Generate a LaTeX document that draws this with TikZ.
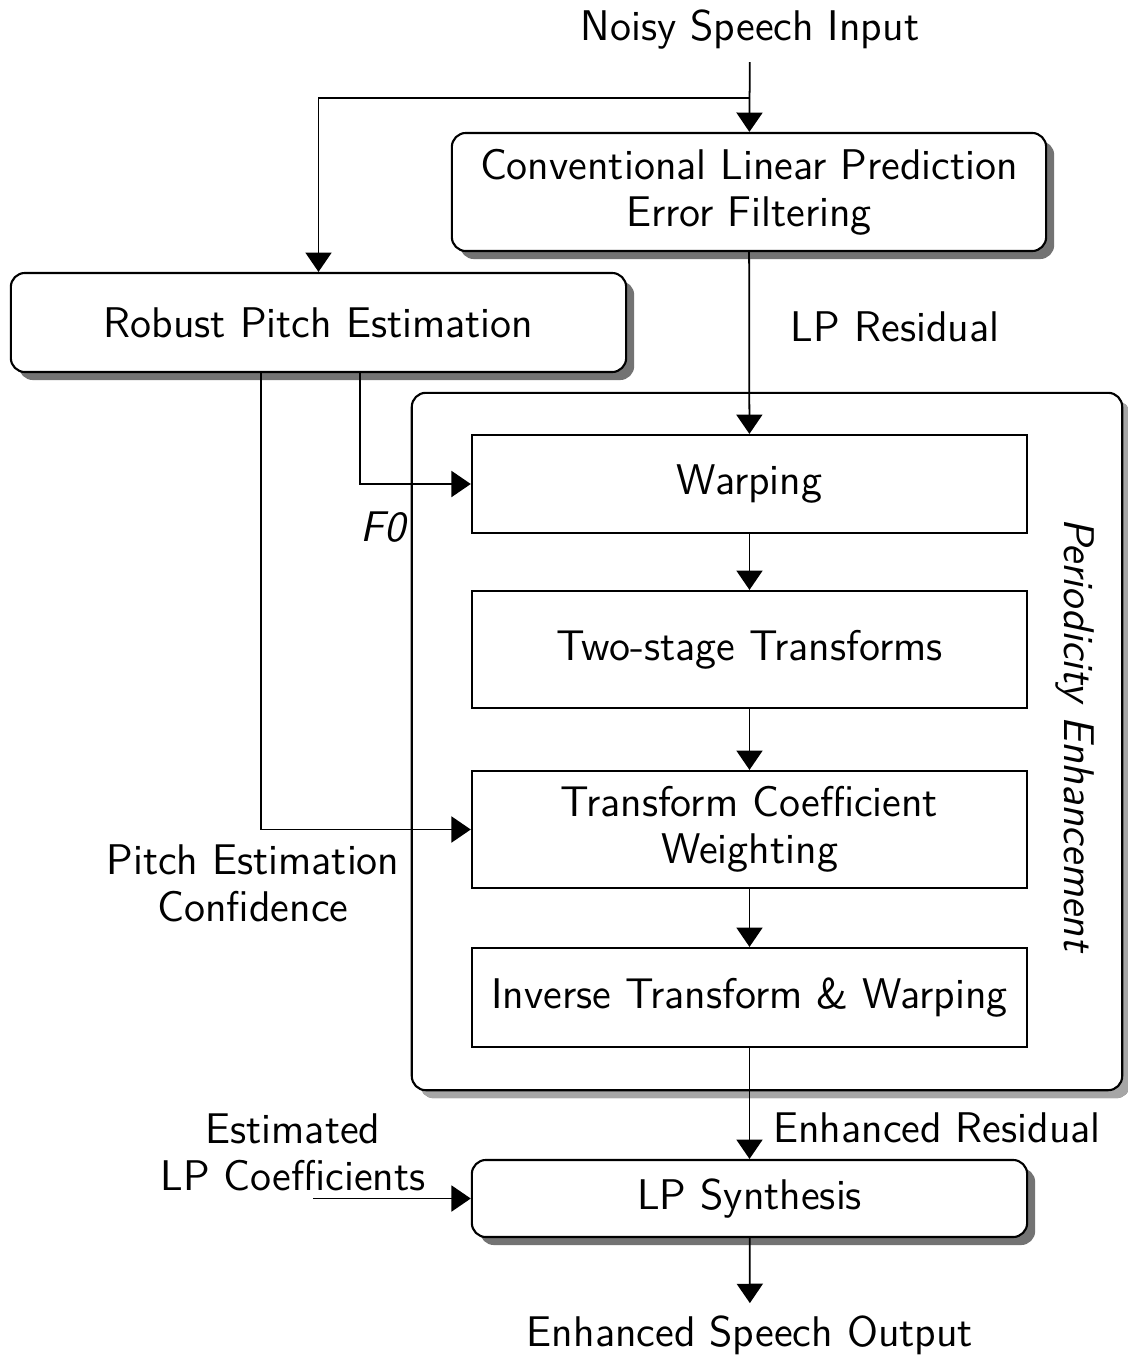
\documentclass[tikz,border=0pt]{standalone}
\usetikzlibrary{arrows.meta,shadows}

\tikzset{
  blk/.style={draw, line width=0.6pt, rounded corners=4pt, fill=white, align=center,
    drop shadow={shadow xshift=0.08cm, shadow yshift=-0.08cm, fill=black!55, opacity=1}},
  sub/.style={draw, line width=0.6pt, fill=white, align=center, minimum width=5.55cm},
  lbl/.style={align=center},
  arr/.style={line width=0.5pt, -{Triangle[length=5.5pt,width=7.4pt]}},
}

\begin{document}
\begin{tikzpicture}[x=0.01cm, y=-0.01cm, font=\sffamily\fontsize{12.2}{13.4}\selectfont]
\useasboundingbox (0,0) rectangle (1128,1357);

\node[blk, minimum width=5.94cm, minimum height=1.18cm] (lpef) at (749,192) {Conventional Linear Prediction\\Error Filtering};
\node[blk, minimum width=6.15cm, minimum height=0.99cm] (rpe) at (318.5,322.5) {Robust Pitch Estimation};

% periodicity enhancement block
\node[blk, minimum width=7.1cm, minimum height=6.97cm, drop shadow={shadow xshift=0.08cm, shadow yshift=-0.08cm, fill=black!35, opacity=1}] (pe) at (767,741.5) {};
\node[rotate=-90, font=\sffamily\itshape\fontsize{12.2}{13.4}\selectfont] (pelbl) at (1075,735) {Periodicity Enhancement};

\node[sub, minimum height=0.98cm] (warp) at (749.5,484) {Warping};
\node[sub, minimum height=1.17cm] (tst) at (749.5,649.5) {Two-stage Transforms};
\node[sub, minimum height=1.17cm] (tcw) at (749.5,829.5) {Transform Coefficient\\Weighting};
\node[sub, minimum height=0.99cm] (itw) at (749.5,997.5) {Inverse Transform \& Warping};

\node[blk, minimum width=5.55cm, minimum height=0.77cm] (lps) at (749.5,1198.5) {LP Synthesis};

% labels
\node[lbl] (in) at (750,30) {Noisy Speech Input};
\node[lbl] (out) at (750,1335) {Enhanced Speech Output};
\node[lbl] (lpres) at (895,327) {LP Residual};
\node[lbl] (enres) at (937,1128) {Enhanced Residual};
\node[lbl, font=\sffamily\itshape\fontsize{12.2}{13.4}\selectfont] (f0) at (383,527) {F0};
\node[lbl] (conf) at (253,883) {Pitch Estimation\\Confidence};
\node[lbl] (estlp) at (293,1152) {Estimated\\LP Coefficients};

\coordinate (split) at (750,98);
\coordinate (coef) at (313,1198.5);

% connectors
\draw[arr] (in) -- (lpef);
\draw[arr] (split) -| (rpe.north);
\draw[arr] (lpef) -- (warp);
\draw[arr] ([xshift=0.415cm]rpe.south) |- (warp.west);
\draw[arr] ([xshift=-0.575cm]rpe.south) |- (tcw.west);
\draw[arr] (coef) -- (lps.west);
\foreach \a/\b in {warp/tst,tst/tcw,tcw/itw,itw/lps,lps/out}
{
    \draw[arr] (\a) -- (\b);
}
\end{tikzpicture}
\end{document}
